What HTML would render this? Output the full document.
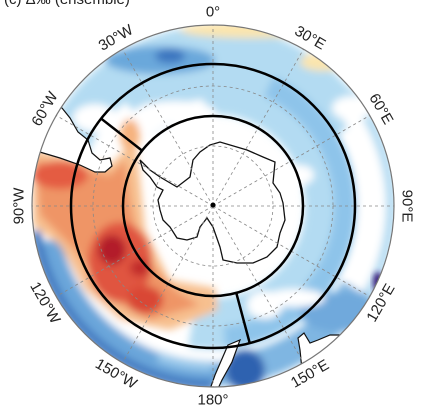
<!DOCTYPE html>
<html><head><meta charset="utf-8"><style>
html,body{margin:0;padding:0;background:#fff;width:424px;height:418px;overflow:hidden}
svg{display:block}
text{font-family:"Liberation Sans",sans-serif;fill:#222}
</style></head><body>
<svg width="424" height="418" viewBox="0 0 424 418">
<defs>
<clipPath id="disk"><circle cx="213" cy="206" r="181"/></clipPath>
<filter id="bl" x="-30%" y="-30%" width="160%" height="160%"><feGaussianBlur stdDeviation="4"/></filter>
<filter id="bl2" x="-30%" y="-30%" width="160%" height="160%"><feGaussianBlur stdDeviation="3"/></filter>
</defs>
<text x="4" y="4" font-size="15">(c) Δ‰ (ensemble)</text>
<g clip-path="url(#disk)">
<rect x="0" y="0" width="424" height="418" fill="#fff"/>
<g filter="url(#bl)">
<g id="base"></g>
<ellipse cx="160" cy="60" rx="55" ry="14" fill="#6aa8db"/>
<ellipse cx="170" cy="56" rx="15" ry="7" fill="#3a74bf"/>
<ellipse cx="175" cy="112" rx="40" ry="11" fill="#fff"/>
<ellipse cx="140" cy="120" rx="18" ry="10" fill="#fff"/>
<ellipse cx="250" cy="30" rx="70" ry="8" fill="#fbe5ad"/>
<ellipse cx="322" cy="62" rx="22" ry="9" fill="#fbe5ad"/>
<ellipse cx="95" cy="118" rx="22" ry="14" fill="#fff"/>
<ellipse cx="370" cy="195" rx="12" ry="38" fill="#fff"/>
<ellipse cx="352" cy="108" rx="20" ry="12" fill="#fff"/>
<ellipse cx="300" cy="175" rx="14" ry="10" fill="#fff"/>
<ellipse cx="340" cy="312" rx="40" ry="20" fill="#6fa9dc"/>
<ellipse cx="295" cy="298" rx="30" ry="9" fill="#fff"/>
<ellipse cx="265" cy="305" rx="18" ry="14" fill="#fff"/>
<g id="outer"></g>
<ellipse cx="245" cy="370" rx="20" ry="20" fill="#2f62b0"/>
<path d="M33,150 L110,165 L135,140 L140,180 L145,230 L170,280 L215,288 L218,310 L170,330 L120,320 L85,290 L60,245 L33,225 Z" fill="#f7c08f"/>
<path d="M35,160 L110,175 L125,160 L130,200 L140,250 L175,290 L200,305 L150,320 L110,300 L75,250 L40,215 Z" fill="#ef9566"/>
<ellipse cx="60" cy="175" rx="28" ry="14" fill="#e45b42"/>
<ellipse cx="120" cy="262" rx="32" ry="40" fill="#e0553f"/>
<ellipse cx="145" cy="300" rx="18" ry="14" fill="#d94634"/>
<ellipse cx="112" cy="250" rx="14" ry="15" fill="#b31f2a"/>
<ellipse cx="140" cy="268" rx="10" ry="8" fill="#c12c2c"/>
<ellipse cx="130" cy="135" rx="10" ry="16" fill="#f6b27e"/>
</g>
<ellipse cx="378" cy="282" rx="5" ry="10" fill="#3a1f7a" filter="url(#bl2)"/>
<path d="M210,145 L220,142 L247,150 L263,157 L275,162 L273,183 L280,193 L283,203 L285,220 L280,233 L277,247 L267,257 L253,263 L237,263 L223,260 L220,247 L213,227 L207,218 L200,227 L197,237 L187,240 L177,238 L170,227 L163,220 L160,210 L158,200 L163,190 L157,187 L150,177 L143,170 L140,160 L150,170 L160,177 L177,187 L190,177 L193,160 L200,152 Z" fill="#fff" stroke="#111" stroke-width="1.3"/>
<path d="M33,150 L60,158 L80,165 L95,172 L105,172 L112,166 L110,158 L100,160 L92,153 L88,140 L78,132 L70,118 L62,108 L30,100 Z" fill="#fff" stroke="#111" stroke-width="1.2"/>
<path d="M228,345 L240,340 L232,362 L222,380 L215,395 L208,395 L215,375 Z" fill="#fff" stroke="#111" stroke-width="1.2"/>
<path d="M300,350 L298,338 L304,333 L310,343 L318,340 L330,335 L345,335 L360,345 L340,400 L305,400 Z" fill="#fff" stroke="#111" stroke-width="1.2"/>
</g>
<g id="grid" fill="none" stroke="#888" stroke-width="0.8" stroke-dasharray="3,3"></g>
<circle cx="213" cy="206" r="181" fill="none" stroke="#777" stroke-width="1.2"/>
<circle cx="213" cy="206" r="142" fill="none" stroke="#000" stroke-width="2.5"/>
<circle cx="213" cy="206" r="90" fill="none" stroke="#000" stroke-width="2.5"/>
<line id="s1" stroke="#000" stroke-width="2.5"/>
<line id="s2" stroke="#000" stroke-width="2.5"/>
<circle cx="213" cy="205" r="2.5" fill="#000"/>
<g id="labels" font-size="15"></g>
</svg>
<script>
const lonTicks=[0,30,60,90,120,150,180,-150,-120,-90,-60,-30];
const lonLabels=["0°","30°E","60°E","90°E","120°E","150°E","180°","150°W","120°W","90°W","60°W","30°W"];
const latRings=[60,120,181];
const sectorLons=[-52,165];
const cx=213,cy=206,NS='http://www.w3.org/2000/svg';
function pt(lon,r){const a=lon*Math.PI/180;return [cx+r*Math.sin(a),cy-r*Math.cos(a)];}
function arc(parent,l1,l2,r,w,col){const a=pt(l1,r),b=pt(l2,r);const p=document.createElementNS(NS,'path');
const large=(l2-l1)>180?1:0;
p.setAttribute('d','M'+a[0]+','+a[1]+' A'+r+','+r+' 0 '+large+' 1 '+b[0]+','+b[1]);
p.setAttribute('fill','none');p.setAttribute('stroke',col);p.setAttribute('stroke-width',w);


parent.appendChild(p);}
const base=document.getElementById('base');
arc(base,-40,190,118,52,'#b3dbf2');
arc(base,-70,60,158,44,'#b3dbf2');
arc(base,25,175,132,22,'#8ec4ea');
arc(base,55,120,165,18,'#fff');
arc(base,50,125,178,10,'#b3dbf2');
arc(base,120,180,165,30,'#7fb6e2');
arc(base,-40,-5,100,14,'#fff');
const outer=document.getElementById('outer');
arc(outer,175,262,150,12,'#fff');
arc(outer,178,258,168,24,'#6aa6da');
arc(outer,180,262,179,10,'#3f78c0');
arc(outer,180,200,160,10,'#9ccbec');
const g=document.getElementById('grid');
lonTicks.forEach(l=>{const p=pt(l,181);const ln=document.createElementNS(NS,'line');
ln.setAttribute('x1',cx);ln.setAttribute('y1',cy);ln.setAttribute('x2',p[0]);ln.setAttribute('y2',p[1]);


g.appendChild(ln);});
latRings.slice(0,2).forEach(r=>{const c=document.createElementNS(NS,'circle');
c.setAttribute('cx',cx);c.setAttribute('cy',cy);c.setAttribute('r',r);


g.appendChild(c);});
[['s1',sectorLons[0]],['s2',sectorLons[1]]].forEach(([id,l])=>{const a=pt(l,90),b=pt(l,142);const e=document.getElementById(id);
e.setAttribute('x1',a[0]);e.setAttribute('y1',a[1]);e.setAttribute('x2',b[0]);e.setAttribute('y2',b[1]);});
const lg=document.getElementById('labels');
lonTicks.forEach((l,i)=>{const p=pt(l,194);const t=document.createElementNS(NS,'text');
let rot=l; if(Math.abs(l)>90) rot=l>0?l-180:l+180;
t.setAttribute('x',p[0]);t.setAttribute('y',p[1]);t.setAttribute('text-anchor','middle');t.setAttribute('dominant-baseline','central');
t.setAttribute('transform','rotate('+rot+' '+p[0]+' '+p[1]+')');
t.textContent=lonLabels[i];


lg.appendChild(t);});
</script>
</body></html>
